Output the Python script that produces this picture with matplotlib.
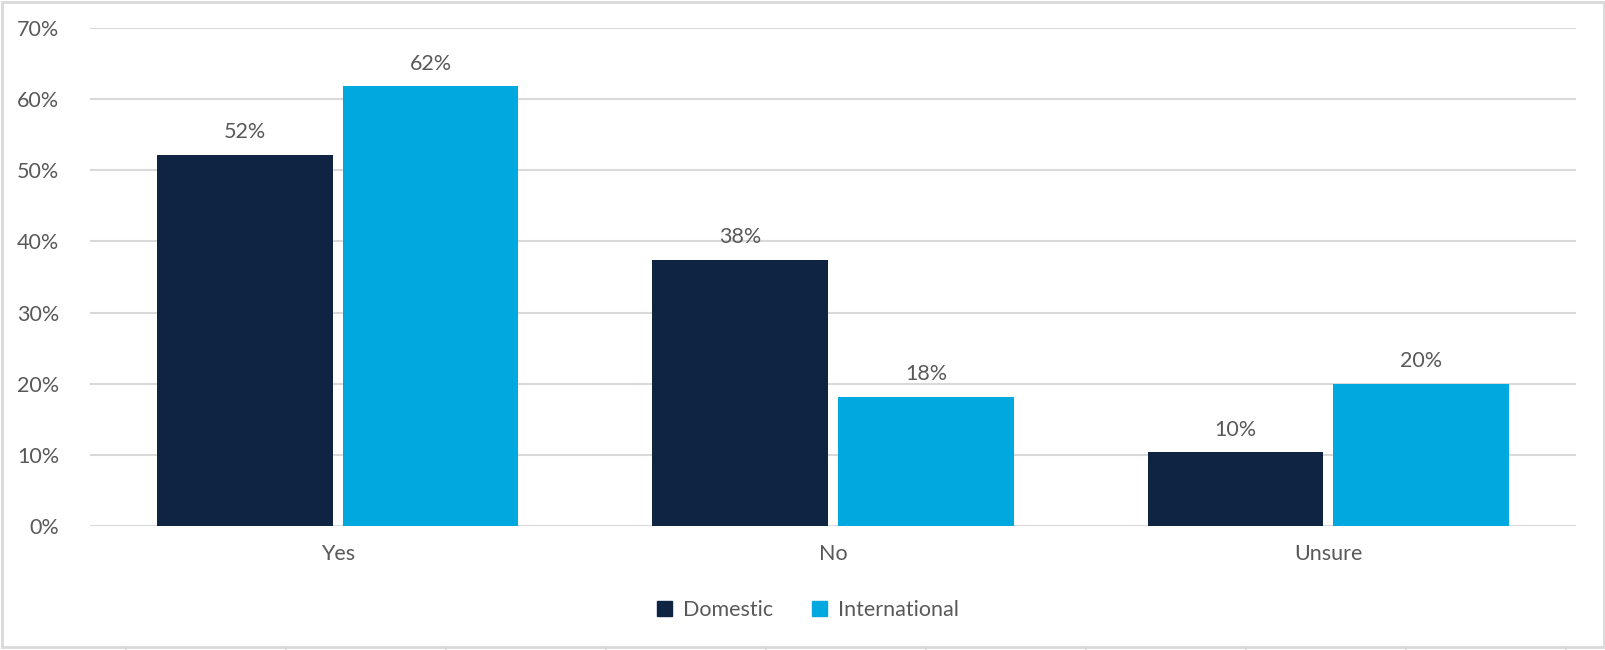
import numpy as np
import matplotlib.pyplot as plt
from matplotlib.lines import Line2D
from matplotlib.patches import Rectangle

categories = ["Yes", "No", "Unsure"]
domestic = [52.2, 37.4, 10.4]
international = [61.8, 18.2, 20.0]
domestic_labels = ["52%", "38%", "10%"]
international_labels = ["62%", "18%", "20%"]
series = ["Domestic", "International"]
yticks = [0, 10, 20, 30, 40, 50, 60, 70]

col_dom = "#0F2343"
col_int = "#00A8E0"
txt = "#595959"
grid = "#D9D9D9"

plt.rcParams["font.family"] = ["Lato", "DejaVu Sans"]
fs = 15.5

W, H = 1606, 650
fig = plt.figure(figsize=(W / 100, H / 100), dpi=100)
ax = fig.add_axes([90 / W, 1 - 526 / H, (1576 - 90) / W, (526 - 28) / H])

x = np.arange(len(categories))
bw = 0.355
gap = 0.02
b1 = ax.bar(x - bw / 2 - gap / 2, domestic, bw, color=col_dom, label=series[0], zorder=3)
b2 = ax.bar(x + bw / 2 + gap / 2, international, bw, color=col_int, label=series[1], zorder=3)

for bars, labs in ((b1, domestic_labels), (b2, international_labels)):
    for r, lab in zip(bars, labs):
        ax.annotate(lab, (r.get_x() + r.get_width() / 2, r.get_height()),
                    xytext=(0, 9), textcoords="offset points",
                    ha="center", va="bottom", fontsize=fs, color=txt)

ax.set_xlim(-0.5, 2.5)
ax.set_ylim(0, 70)
ax.set_yticks(yticks)
ax.set_yticklabels([f"{t}%" for t in yticks])
ax.set_xticks(x)
ax.set_xticklabels(categories)
ax.tick_params(axis="both", length=0, labelsize=fs, colors=txt)
ax.tick_params(axis="y", pad=22)
ax.tick_params(axis="x", pad=13)
ax.grid(axis="y", color=grid, linewidth=1.5, zorder=0)
for s in ax.spines.values():
    s.set_visible(False)

fig.legend(handles=[Rectangle((0, 0), 1, 1, color=col_dom), Rectangle((0, 0), 1, 1, color=col_int)],
           labels=series, loc="center", bbox_to_anchor=(808 / W, 1 - 610 / H),
           ncol=2, frameon=False, fontsize=fs, labelcolor=txt,
           handlelength=0.7, handleheight=0.7, handletextpad=0.5, columnspacing=1.8)

# outer frame with the little cell-grid ticks along the bottom
fig.patches.append(Rectangle((2 / W, 3 / H), (W - 4) / W, (H - 5) / H, transform=fig.transFigure,
                             fill=False, edgecolor=grid, linewidth=2))
for bx in range(126, W, 160):
    fig.lines.append(Line2D([bx / W, bx / W], [0, 3 / H], transform=fig.transFigure,
                            color=grid, linewidth=1.5))

fig.savefig("out.png", dpi=100)
